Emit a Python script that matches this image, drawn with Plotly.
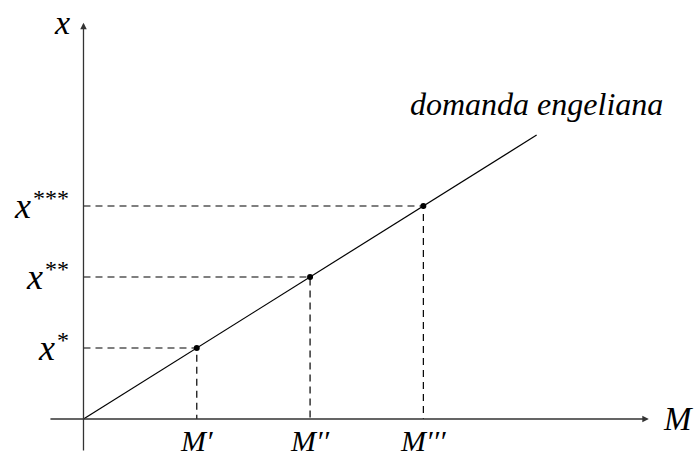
import plotly.graph_objects as go

# Engel curve: quantity x rises linearly with income M
income_levels = [1, 2, 3]
quantity_levels = [1, 2, 3]
income_labels = ["M′", "M′′", "M′′′"]
star_marks = ["*", "**", "***"]
curve_M = [0, 4]
curve_x = [0, 4]
curve_label = "domanda engeliana"

FONT = "Liberation Serif"
BLACK = "#000000"

fig = go.Figure()

# dashed guides from each point to both axes
for m, q in zip(income_levels, quantity_levels):
    fig.add_trace(go.Scatter(x=[0, m, m], y=[q, q, 0], mode="lines",
                             line=dict(color=BLACK, width=1.2, dash="7px,5px"),
                             hoverinfo="skip", showlegend=False))

# the Engel curve
fig.add_trace(go.Scatter(x=curve_M, y=curve_x, mode="lines",
                         line=dict(color=BLACK, width=1.2),
                         hoverinfo="skip", showlegend=False))

# equilibrium points
fig.add_trace(go.Scatter(x=income_levels, y=quantity_levels, mode="markers",
                         marker=dict(color=BLACK, size=6),
                         hoverinfo="skip", showlegend=False))

annotations = []
# axes drawn as arrows
annotations.append(dict(x=4.99, y=0, ax=-0.305, ay=0, xref="x", yref="y",
                        axref="x", ayref="y", text="", showarrow=True,
                        arrowhead=2, arrowsize=1, arrowwidth=1.3,
                        arrowcolor="#333333"))
annotations.append(dict(x=0, y=5.58, ax=0, ay=-0.465, xref="x", yref="y",
                        axref="x", ayref="y", text="", showarrow=True,
                        arrowhead=2, arrowsize=1, arrowwidth=1.3,
                        arrowcolor="#333333"))

# axis titles
annotations.append(dict(x=-0.19, y=5.59, xref="x", yref="y", text="<i>x</i>",
                        showarrow=False, font=dict(family=FONT, size=34, color=BLACK)))
annotations.append(dict(x=5.25, y=0, xref="x", yref="y", text="<i>M</i>",
                        showarrow=False, font=dict(family=FONT, size=33, color=BLACK)))

# tick labels on the income axis
for m, lab in zip(income_levels, income_labels):
    annotations.append(dict(x=m, y=-0.30, xref="x", yref="y", text="<i>" + lab + "</i>",
                            showarrow=False, xanchor="center", yanchor="middle",
                            font=dict(family=FONT, size=30, color=BLACK)))
# tick labels on the quantity axis: italic x followed by raised stars
for q, stars in zip(quantity_levels, star_marks):
    annotations.append(dict(x=0, y=q, xref="x", yref="y", text=stars,
                            showarrow=False, xanchor="right", yanchor="middle",
                            xshift=-12, yshift=8,
                            font=dict(family=FONT, size=24, color=BLACK)))
    annotations.append(dict(x=0, y=q, xref="x", yref="y", text="<i>x</i>",
                            showarrow=False, xanchor="right", yanchor="middle",
                            xshift=-14 - 12 * len(stars), yshift=0,
                            font=dict(family=FONT, size=36, color=BLACK)))

# curve label
annotations.append(dict(x=curve_M[-1], y=4.437, xref="x", yref="y",
                        text="<i>" + curve_label + "</i>", showarrow=False,
                        font=dict(family=FONT, size=32, color=BLACK)))

fig.update_layout(
    width=694, height=455,
    margin=dict(l=0, r=0, t=0, b=0),
    paper_bgcolor="white", plot_bgcolor="white",
    font=dict(family=FONT),
    xaxis=dict(range=[-0.737, 5.389], visible=False, fixedrange=True),
    yaxis=dict(range=[-0.507, 5.901], visible=False, fixedrange=True),
    annotations=annotations,
    showlegend=False,
)

fig.write_html("out.html")
